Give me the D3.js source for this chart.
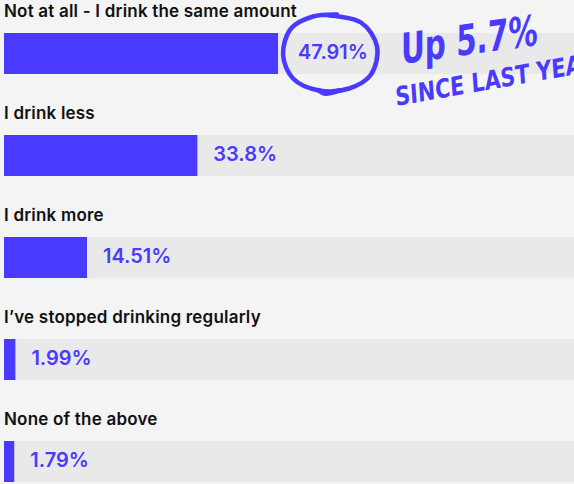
<!DOCTYPE html>
<html>
<head>
<meta charset="utf-8">
<script src="https://cdn.jsdelivr.net/npm/d3@7"></script>
<style>
  html, body { margin: 0; padding: 0; background: #f4f4f4; overflow: hidden; }
  svg { display: block; }
</style>
</head>
<body>
<svg id="chart" width="574" height="484"></svg>
<script>
// Survey answers and their shares (%)
const categories = [
  "Not at all - I drink the same amount",
  "I drink less",
  "I drink more",
  "I\u2019ve stopped drinking regularly",
  "None of the above"
];
const values = [47.91, 33.8, 14.51, 1.99, 1.79];
const valueLabels = ["47.91%", "33.8%", "14.51%", "1.99%", "1.79%"];
const noteLines = ["Up 5.7%", "SINCE LAST YEAR"];

const accent = "#4a3aff";
const svg = d3.select("#chart");

const left = 4;
const x = d3.scaleLinear().domain([0, 100]).range([left, left + 572]);
const barH = 41;
const rowStep = 102;
const rowTop = i => 33 + i * rowStep;

const rows = svg.selectAll("g.row").data(categories).join("g")
  .attr("class", "row")
  .attr("transform", (d, i) => `translate(0,${rowTop(i)})`);

// background track
rows.append("rect")
  .attr("x", x(0)).attr("y", 0)
  .attr("width", x(100) - x(0)).attr("height", barH)
  .attr("fill", "#e9e9e9");

// value bar
rows.append("rect")
  .attr("x", x(0)).attr("y", 0)
  .attr("width", (d, i) => x(values[i]) - x(0)).attr("height", barH)
  .attr("fill", accent);

// category label
rows.append("text")
  .attr("x", left).attr("y", -16)
  .attr("font-family", "Inter, 'Open Sans', sans-serif")
  .attr("font-weight", 600)
  .attr("font-size", 17)
  .attr("letter-spacing", 0.2)
  .attr("fill", "#111")
  .text(d => d);

// value label
rows.append("text")
  .attr("x", (d, i) => x(values[i]) + (i === 0 ? 20 : 16))
  .attr("y", barH / 2)
  .attr("dominant-baseline", "middle")
  .attr("font-family", "Inter, 'Open Sans', sans-serif")
  .attr("font-weight", 600)
  .attr("font-size", 20)
  .attr("fill", accent)
  .text((d, i) => valueLabels[i]);

// hand-drawn loop around the top value
const cx = x(values[0]) + 20 + 33, cy = rowTop(0) + barH / 2 - 1;
const loopPts = [
  [-2, -37], [30, -30], [46, -6], [40, 22], [18, 36], [-12, 38],
  [-38, 26], [-48, 2], [-40, -24], [-18, -36], [6, -38]
];
svg.append("path")
  .attr("d", d3.line().curve(d3.curveCatmullRom)(loopPts.map(p => [cx + p[0], cy + p[1]])))
  .attr("fill", "none").attr("stroke", accent)
  .attr("stroke-width", 4.5).attr("stroke-linecap", "round");
svg.append("path")
  .attr("d", d3.line().curve(d3.curveCatmullRom)([[cx - 12, cy + 38], [cx - 6, cy + 41], [cx + 8, cy + 38]]))
  .attr("fill", "none").attr("stroke", accent)
  .attr("stroke-width", 5).attr("stroke-linecap", "round");

// handwritten note
svg.append("text")
  .attr("transform", `translate(401,64) rotate(-8) skewX(-8)`)
  .attr("font-family", "'DejaVu Sans Condensed', 'DejaVu Sans', sans-serif")
  .attr("font-weight", 700)
  .attr("font-size", 42)
  .attr("textLength", 138)
  .attr("lengthAdjust", "spacingAndGlyphs")
  .attr("fill", accent)
  .text(noteLines[0]);
svg.append("text")
  .attr("transform", `translate(396,106) rotate(-10) skewX(-6)`)
  .attr("font-family", "'DejaVu Sans Condensed', 'DejaVu Sans', sans-serif")
  .attr("font-weight", 700)
  .attr("font-size", 26)
  .attr("textLength", 205)
  .attr("lengthAdjust", "spacingAndGlyphs")
  .attr("fill", accent)
  .text(noteLines[1]);
</script>
</body>
</html>
